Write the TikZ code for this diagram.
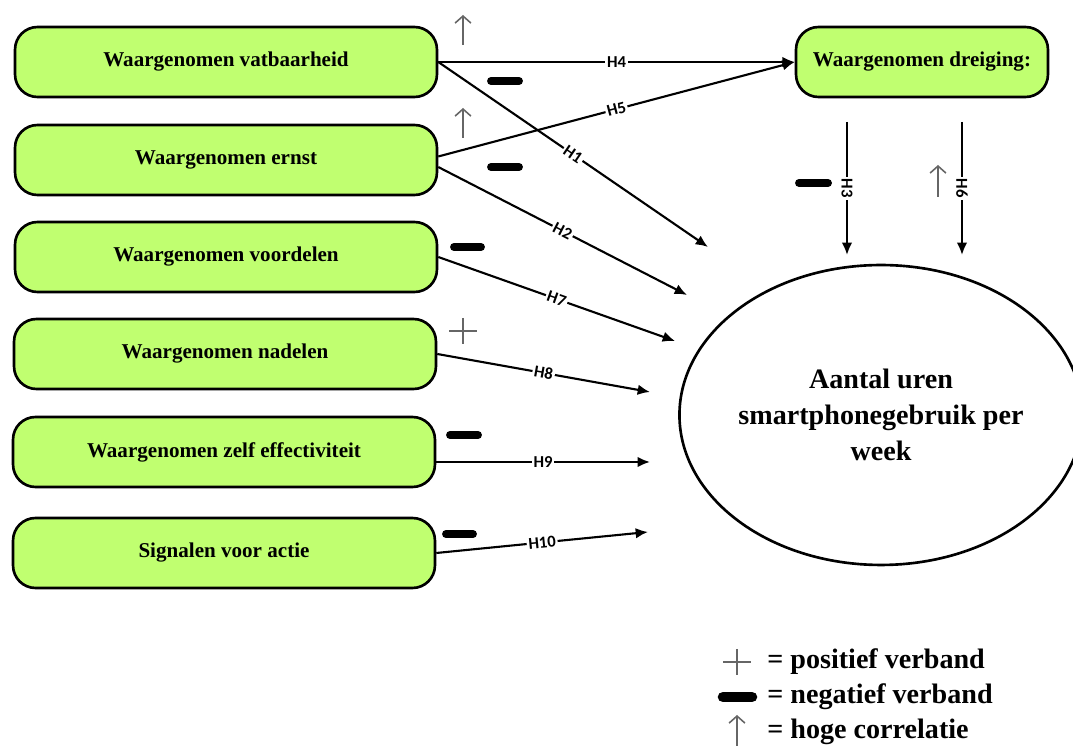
\documentclass[tikz,border=0pt]{standalone}
\usepackage{fontspec}
\setmainfont{Liberation Serif}
\newfontfamily\labelfont{Carlito}
\usetikzlibrary{shapes.geometric, arrows.meta}
\definecolor{boxgreen}{RGB}{192,255,112}
\begin{document}
\begin{tikzpicture}[x = 0.02cm, y = -0.02cm, >={Latex[length = 7pt, width = 6pt]}]
    \useasboundingbox (0, 0) rectangle (1073, 749);

    \tikzstyle{factor} = [rectangle, draw, line width = 1.5pt, rounded corners = 0.45cm, fill = boxgreen, minimum width = 8.44cm, minimum height = 1.4cm, inner sep = 0pt, font = \bfseries\fontsize{12}{14}\selectfont]
    \tikzstyle{outcome} = [ellipse, draw, line width = 1.5pt, minimum width = 7.66cm, minimum height = 6cm, inner sep = 0pt, align = center, font = \bfseries\fontsize{16}{20.5}\selectfont]
    \tikzstyle{hyp} = [->, line width = 1.2pt]
    \tikzstyle{hlabel} = [midway, sloped, fill = white, inner sep = 1pt, font = \labelfont\bfseries\fontsize{9.5}{10}\selectfont]
    \tikzstyle{negmark} = [line width = 4.5pt, line cap = round]
    \tikzstyle{posmark} = [black!60, line width = 0.9pt]
    \tikzstyle{highmark} = [black!60, line width = 0.9pt, -{Straight Barb[length = 4pt, width = 9pt]}]
    \tikzstyle{legend} = [anchor = west, inner sep = 0pt, font = \bfseries\fontsize{16}{18}\selectfont]

    % determinants
    \node[factor] (vat) at (226, 62) {Waargenomen vatbaarheid};
    \node[factor] (ern) at (226, 160) {Waargenomen ernst};
    \node[factor] (voo) at (226, 257) {Waargenomen voordelen};
    \node[factor] (nad) at (225, 354) {Waargenomen nadelen};
    \node[factor] (eff) at (224, 452) {Waargenomen zelf effectiviteit};
    \node[factor] (sig) at (224, 553) {Signalen voor actie};

    \node[factor, minimum width = 5.04cm] (dre) at (922, 62) {Waargenomen dreiging:};
    \node[outcome] (uren) at (881, 415) {Aantal uren\\smartphonegebruik per\\week};

    % free ends towards the outcome
    \coordinate (e1) at (708, 247);
    \coordinate (e2) at (687, 295);
    \coordinate (e7) at (675, 341);
    \coordinate (e8) at (650, 392);
    \coordinate (e9) at (650, 462);
    \coordinate (e10) at (648, 532);
    \coordinate (s3) at (847, 122);
    \coordinate (e3) at (847, 255);
    \coordinate (s6) at (962, 122);
    \coordinate (e6) at (962, 255);

    \draw[hyp] (vat.east) -- (dre.west) node[hlabel] {H4};
    \draw[hyp] ([yshift = 2pt]ern.east) -- (dre.west) node[hlabel] {H5};
    \draw[hyp] (vat.east) -- (e1) node[hlabel] {H1};
    \draw[hyp] ([yshift = -4pt]ern.east) -- (e2) node[hlabel] {H2};
    \draw[hyp] (voo.east) -- (e7) node[hlabel] {H7};
    \draw[hyp] (nad.east) -- (e8) node[hlabel] {H8};
    \draw[hyp] (eff.east |- e9) -- (e9) node[hlabel] {H9};
    \draw[hyp] (sig.east) -- (e10) node[hlabel] {H10};
    \draw[hyp] (s3) -- (e3) node[hlabel] {H3};
    \draw[hyp] (s6) -- (e6) node[hlabel] {H6};

    % signs of the relations
    \draw[highmark] (463, 45) -- (463, 15);
    \draw[highmark] (463, 138) -- (463, 108);
    \draw[highmark] (938, 197) -- (938, 165);
    \draw[negmark] (491, 81) -- (519, 81);
    \draw[negmark] (491, 167) -- (519, 167);
    \draw[negmark] (454, 247) -- (481, 247);
    \draw[negmark] (450, 435) -- (478, 435);
    \draw[negmark] (446, 534) -- (473, 534);
    \draw[negmark] (799, 183) -- (828, 183);
    \draw[posmark] (449, 331) -- (477, 331) (463, 318) -- (463, 344);

    % legend
    \draw[posmark] (723, 662) -- (751, 662) (737, 649) -- (737, 675);
    \draw[negmark, line width = 6pt] (723, 697) -- (752, 697);
    \draw[highmark] (737, 746) -- (737, 715);
    \node[legend] (lpos) at (767, 662) {= positief verband};
    \node[legend] (lneg) at (767, 697) {= negatief verband};
    \node[legend] (lhigh) at (767, 732) {= hoge correlatie};
\end{tikzpicture}
\end{document}
